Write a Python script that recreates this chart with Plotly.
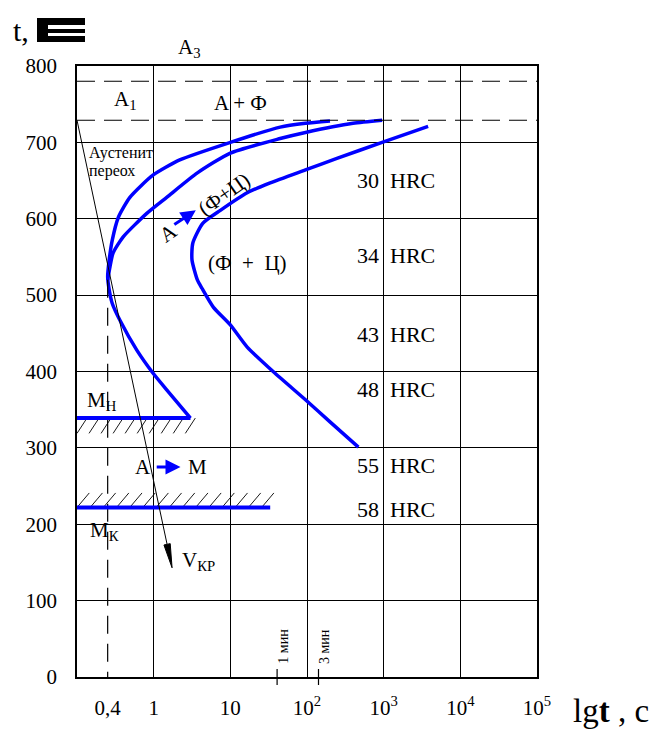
import math
import plotly.graph_objects as go

# ---------------- data (x in log-decade units: 0 = left edge, 1 = "1 s", 2 = "10 s", ...) -------------
tick_pos = [0.4, 1, 2, 3, 4, 5, 6]
tick_text = ["0,4", "1", "10", "10<sup>2</sup>", "10<sup>3</sup>", "10<sup>4</sup>", "10<sup>5</sup>"]
temp_ticks = [0, 100, 200, 300, 400, 500, 600, 700, 800]

# start of transformation (outer C-curve, lower branch ends at Mн)
curve1_x = [3.30, 2.98, 2.65, 2.00, 1.34, 0.99, 0.69, 0.54, 0.46, 0.42, 0.40, 0.42, 0.46, 0.56, 0.78, 0.99, 1.17, 1.48]
curve1_t = [728, 725, 720, 700, 677, 657, 628, 602, 572, 546, 524, 507, 489, 467, 428, 398, 376, 339]
# second curve (upper part)
curve2_x = [3.98, 3.60, 2.98, 2.65, 2.00, 1.57, 1.17, 0.91, 0.60, 0.47, 0.43, 0.40]
curve2_t = [729, 725, 713, 705, 686, 660, 628, 607, 576, 555, 537, 520]
# end of transformation
curve3_x = [4.58, 3.98, 3.39, 2.98, 2.52, 2.22, 1.87, 1.64, 1.51, 1.50, 1.57, 1.63, 1.78, 2.00, 2.22, 2.58, 2.98, 3.30, 3.67]
curve3_t = [721, 700, 679, 664, 647, 634, 611, 594, 568, 546, 520, 509, 484, 461, 432, 398, 363, 334, 301]

A3_temp = 780
A1_temp = 729
Mn_temp = 339
Mn_end = 1.48
Mk_temp = 222
Mk_end = 2.52
x04 = 0.4
x04_top = 520

vkr_start = (0.0, 729)
vkr_end = (1.24, 143)

hrc_values = ["30", "34", "43", "48", "55", "58"]
hrc_temps = [650, 552, 449, 377, 277, 219]

min_marks_x = [2.61, 3.15]
min_marks_text = ["1 мин", "3 мин"]

BLUE = "#0000FF"
SERIF = "Liberation Serif"

# page geometry of the plot area (pixels); the page body adds an 8px offset
OFF = 8
L, R, T, B = 77, 537, 66, 677
W, H = 670 - OFF, 750 - OFF
XR, YR = (0, 6), (0, 800)
upx_x = (XR[1] - XR[0]) / (R - L)   # data units per pixel
upx_y = (YR[1] - YR[0]) / (B - T)


def px(x):
    return (x - L) / (R - L)


def py(y):
    return (B - y) / (B - T)


fig = go.Figure()

for cx, ct in [(curve1_x, curve1_t), (curve2_x, curve2_t), (curve3_x, curve3_t)]:
    fig.add_trace(go.Scatter(x=cx, y=ct, mode="lines", line=dict(color=BLUE, width=3.5, shape="spline", smoothing=0.6),
                             showlegend=False, hoverinfo="skip"))

# critical temperature dashed lines
for tv in [A3_temp, A1_temp]:
    fig.add_trace(go.Scatter(x=[0, 6], y=[tv, tv], mode="lines",
                             line=dict(color="black", width=1.2, dash="18px,9px"),
                             showlegend=False, hoverinfo="skip"))
# 0,4 dashed vertical
fig.add_trace(go.Scatter(x=[x04, x04], y=[x04_top, 0], mode="lines",
                         line=dict(color="black", width=1.2, dash="18px,10px"),
                         showlegend=False, hoverinfo="skip"))

# hatching (decorative)
hx, hy = [], []
step = 0.157
k = 0
while k * step < Mn_end + 0.05:
    x0 = k * step
    hx += [x0 + 0.13, x0, None]
    hy += [Mn_temp, Mn_temp - 20, None]
    k += 1
k = 0
step2 = 0.172
while k * step2 + 0.16 < Mk_end + 0.05:
    x0 = k * step2
    hx += [x0, x0 + 0.16, None]
    hy += [Mk_temp, Mk_temp + 19, None]
    k += 1
fig.add_trace(go.Scatter(x=hx, y=hy, mode="lines", line=dict(color="black", width=0.9),
                         showlegend=False, hoverinfo="skip"))

# Mн / Mк lines
fig.add_trace(go.Scatter(x=[0, Mn_end], y=[Mn_temp, Mn_temp], mode="lines",
                         line=dict(color=BLUE, width=4), showlegend=False, hoverinfo="skip"))
fig.add_trace(go.Scatter(x=[0, Mk_end], y=[Mk_temp, Mk_temp], mode="lines",
                         line=dict(color=BLUE, width=4), showlegend=False, hoverinfo="skip"))

# V_кр line with a long narrow arrow head
dxp = (vkr_end[0] - vkr_start[0]) / upx_x
dyp = (vkr_end[1] - vkr_start[1]) / upx_y
ln = math.hypot(dxp, dyp)
ux, uy = dxp / ln, dyp / ln
head_len, head_half = 24, 3.2
bx, by = -ux * head_len, -uy * head_len
nx, ny = -uy * head_half, ux * head_half
base_x = vkr_end[0] + bx * upx_x
base_y = vkr_end[1] + by * upx_y
fig.add_trace(go.Scatter(x=[vkr_start[0], base_x], y=[vkr_start[1], base_y], mode="lines",
                         line=dict(color="black", width=1), showlegend=False, hoverinfo="skip"))
fig.add_trace(go.Scatter(
    x=[vkr_end[0], base_x + nx * upx_x, base_x - nx * upx_x, vkr_end[0]],
    y=[vkr_end[1], base_y + ny * upx_y, base_y - ny * upx_y, vkr_end[1]],
    mode="lines", fill="toself", fillcolor="black", line=dict(color="black", width=1),
    showlegend=False, hoverinfo="skip"))

ann = []


def txt(x, y, s, size=21, xanchor="center", angle=0, align="center", color="black"):
    ann.append(dict(x=x, y=y, xref="x", yref="y", text=s, showarrow=False, xanchor=xanchor,
                    yanchor="middle", textangle=angle, align=align,
                    font=dict(family=SERIF, size=size, color=color)))


txt(0.63, 756, "A<sub>1</sub>", 21)
txt(2.13, 751, "A + Ф", 21)
txt(0.13, 686, "Аустенит", 16, xanchor="left")
txt(0.13, 662, "переох", 16, xanchor="left")
for v, tv in zip(hrc_values, hrc_temps):
    txt(4.16, tv, v + "  HRC", 22)
txt(2.22, 542, "(Ф  +  Ц)", 21)
txt(0.32, 361, "M<sub>Н</sub>", 21)
txt(0.36, 191, "M<sub>К</sub>", 21)
txt(1.59, 152, "V<sub>КР</sub>", 21)
txt(0.86, 275, "A", 21)
txt(1.57, 275, "M", 21)
txt(1.19, 582, "A", 21, angle=-35)
txt(1.92, 633, "(Ф+Ц)", 21, angle=-35)
for mx, mt in zip(min_marks_x, min_marks_text):
    txt(mx + 0.08, 40, mt, 14, angle=-90)

# A3 label sits above the plot area
ann.append(dict(x=px(189), y=py(48), xref="paper", yref="paper", text="A<sub>3</sub>", showarrow=False,
                xanchor="center", yanchor="middle", font=dict(family=SERIF, size=21, color="black")))

# blue arrows
ann.append(dict(x=1.35, y=275, ax=1.02, ay=275, xref="x", yref="y", axref="x", ayref="y", text="",
                showarrow=True, arrowhead=2, arrowsize=1, arrowwidth=3, arrowcolor=BLUE, standoff=0))
ann.append(dict(x=1.55, y=611, ax=1.25, ay=591, xref="x", yref="y", axref="x", ayref="y", text="",
                showarrow=True, arrowhead=2, arrowsize=1, arrowwidth=3, arrowcolor=BLUE, standoff=0))

# axis titles
ann.append(dict(x=px(21), y=py(31), xref="paper", yref="paper", text="t,", showarrow=False,
                xanchor="center", yanchor="middle",
                font=dict(family=SERIF, size=30, color="black")))
ann.append(dict(x=px(611), y=py(711), xref="paper", yref="paper",
                text="lg<b>t</b> , c", showarrow=False, xanchor="center", yanchor="middle",
                font=dict(family=SERIF, size=33, color="black")))

shapes = []
# block glyph after "t,"
for (x0, y0, x1, y1) in [(37, 18, 48, 42), (37, 18, 85, 25), (48, 29, 85, 33), (37, 36, 85, 42)]:
    shapes.append(dict(type="rect", xref="paper", yref="paper", x0=px(x0), x1=px(x1), y0=py(y0), y1=py(y1),
                       fillcolor="black", line=dict(width=0)))
# minute marks
for mx in min_marks_x:
    shapes.append(dict(type="line", xref="x", yref="paper", x0=mx, x1=mx, y0=py(669), y1=py(685),
                       line=dict(color="black", width=1.2)))

fig.update_layout(
    width=W, height=H,
    margin=dict(l=L - OFF, r=W - (R - OFF), t=T - OFF, b=H - (B - OFF)),
    paper_bgcolor="white", plot_bgcolor="white",
    showlegend=False,
    annotations=ann, shapes=shapes,
    xaxis=dict(range=list(XR), tickvals=tick_pos, ticktext=tick_text, ticks="", showgrid=False,
               zeroline=False, showline=True, linecolor="black", linewidth=1.5, mirror=True,
               tickfont=dict(family=SERIF, size=21, color="black"), ticklabelstandoff=11,
               minor=dict(tickvals=[1, 2, 3, 4, 5], showgrid=True, gridcolor="black", gridwidth=1.3, ticks="")),
    yaxis=dict(range=list(YR), tickvals=temp_ticks, ticks="", showgrid=True, gridcolor="black",
               gridwidth=1.3, zeroline=False, showline=True, linecolor="black", linewidth=1.5, mirror=True,
               tickfont=dict(family=SERIF, size=21, color="black"), ticklabelstandoff=14),
)

fig.write_html("out.html")
